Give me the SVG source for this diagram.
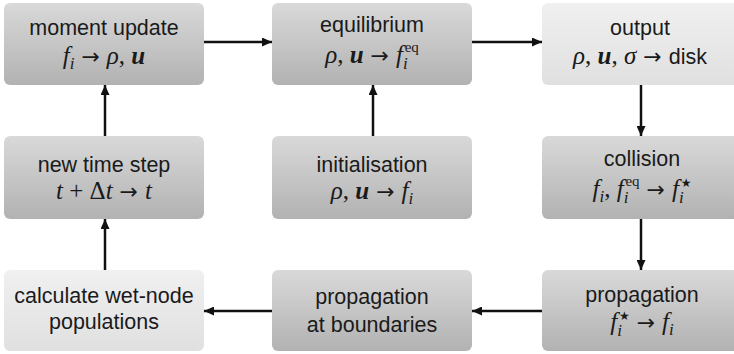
<svg xmlns="http://www.w3.org/2000/svg" width="734" height="354" viewBox="0 0 734 354">
<defs>
<linearGradient id="gd" x1="0" y1="0" x2="0" y2="1">
<stop offset="0" stop-color="#d9d9d9"/>
<stop offset="1" stop-color="#b2b2b2"/>
</linearGradient>
<linearGradient id="gl" x1="0" y1="0" x2="0" y2="1">
<stop offset="0" stop-color="#f0f0f0"/>
<stop offset="1" stop-color="#e0e0e0"/>
</linearGradient>
<marker id="ah" markerWidth="10" markerHeight="9" refX="10" refY="4.5" orient="auto" markerUnits="userSpaceOnUse">
<path d="M0,0 L10,4.5 L0,9 Z" fill="#111"/>
</marker>
</defs>
<style>
.bd{fill:url(#gd);}
.bl{fill:url(#gl);}
.t{font-family:"Liberation Sans",Arial,sans-serif;font-size:21.5px;fill:#1a1a1a;text-anchor:middle;}
.m{font-family:"Liberation Serif","DejaVu Serif","Times New Roman",serif;font-size:25px;fill:#1a1a1a;text-anchor:middle;}
.i{font-style:italic;}
.b{font-style:italic;font-weight:bold;}
.s{font-size:17px;}
.e{font-size:15px;}
.a{font-family:"DejaVu Sans",sans-serif;font-size:22px;}
.st{font-family:"DejaVu Sans",sans-serif;font-size:12px;}
.c{stroke:#111;stroke-width:2.5;fill:none;marker-end:url(#ah);}
</style>
<g id="connectors">
<line class="c" x1="204" y1="42" x2="272" y2="42"/>
<line class="c" x1="472" y1="42" x2="542" y2="42"/>
<line class="c" x1="641" y1="85" x2="641" y2="136"/>
<line class="c" x1="641" y1="219" x2="641" y2="270"/>
<line class="c" x1="542" y1="311" x2="472" y2="311"/>
<line class="c" x1="272" y1="311" x2="204" y2="311"/>
<line class="c" x1="105" y1="270" x2="105" y2="219"/>
<line class="c" x1="105" y1="136" x2="105" y2="85"/>
<line class="c" x1="373" y1="136" x2="373" y2="85"/>
</g>
<g id="moment-update">
<rect class="bd" x="4" y="3" width="200" height="82" rx="6"/>
<text class="t" x="104" y="35">moment update</text>
<text class="m" x="104" y="64"><tspan class="i">f</tspan><tspan class="i s" dy="5">i</tspan><tspan class="a" dy="-5"> → </tspan><tspan class="i">ρ</tspan>, <tspan class="b">u</tspan></text>
</g>
<g id="equilibrium">
<rect class="bd" x="272" y="3" width="200" height="82" rx="6"/>
<text class="t" x="372" y="32">equilibrium</text>
<text class="m" x="372" y="63"><tspan class="i">ρ</tspan>, <tspan class="b">u</tspan><tspan class="a"> → </tspan><tspan class="i">f</tspan><tspan class="i s" dy="6">i</tspan><tspan class="e" dx="-3" dy="-17">eq</tspan></text>
</g>
<g id="output">
<rect class="bl" x="542" y="3" width="200" height="82" rx="6"/>
<text class="t" x="640" y="35">output</text>
<text class="m" x="640" y="64"><tspan class="i">ρ</tspan>, <tspan class="b">u</tspan>, <tspan class="i">σ</tspan><tspan class="a"> → </tspan><tspan style="font-family:'Liberation Sans',Arial,sans-serif;font-size:21.5px">disk</tspan></text>
</g>
<g id="new-time-step">
<rect class="bd" x="4" y="136" width="200" height="83" rx="6"/>
<text class="t" x="104" y="172">new time step</text>
<text class="m" x="104" y="199"><tspan class="i">t</tspan> + Δ<tspan class="i">t</tspan><tspan class="a"> → </tspan><tspan class="i">t</tspan></text>
</g>
<g id="initialisation">
<rect class="bd" x="272" y="136" width="200" height="83" rx="6"/>
<text class="t" x="372" y="172">initialisation</text>
<text class="m" x="372" y="199"><tspan class="i">ρ</tspan>, <tspan class="b">u</tspan><tspan class="a"> → </tspan><tspan class="i">f</tspan><tspan class="i s" dy="5">i</tspan></text>
</g>
<g id="collision">
<rect class="bd" x="542" y="136" width="200" height="83" rx="6"/>
<text class="t" x="642" y="166">collision</text>
<text class="m" x="642" y="197"><tspan class="i">f</tspan><tspan class="i s" dy="5">i</tspan><tspan dy="-5">, </tspan><tspan class="i">f</tspan><tspan class="i s" dy="6">i</tspan><tspan class="e" dx="-3" dy="-17">eq</tspan><tspan class="a" dy="11"> → </tspan><tspan class="i">f</tspan><tspan class="i s" dy="6">i</tspan><tspan class="st" dx="-3" dy="-16">★</tspan></text>
</g>
<g id="calculate-wet-node">
<rect class="bl" x="4" y="270" width="200" height="81" rx="6"/>
<text class="t" x="104" y="303">calculate wet-node</text>
<text class="t" x="104" y="329">populations</text>
</g>
<g id="propagation-boundaries">
<rect class="bd" x="272" y="270" width="200" height="81" rx="6"/>
<text class="t" x="372" y="304">propagation</text>
<text class="t" x="372" y="332">at boundaries</text>
</g>
<g id="propagation">
<rect class="bd" x="542" y="270" width="200" height="81" rx="6"/>
<text class="t" x="642" y="302">propagation</text>
<text class="m" x="642" y="330"><tspan class="i">f</tspan><tspan class="i s" dy="6">i</tspan><tspan class="st" dx="-3" dy="-16">★</tspan><tspan class="a" dy="10"> → </tspan><tspan class="i">f</tspan><tspan class="i s" dy="5">i</tspan></text>
</g>
</svg>
